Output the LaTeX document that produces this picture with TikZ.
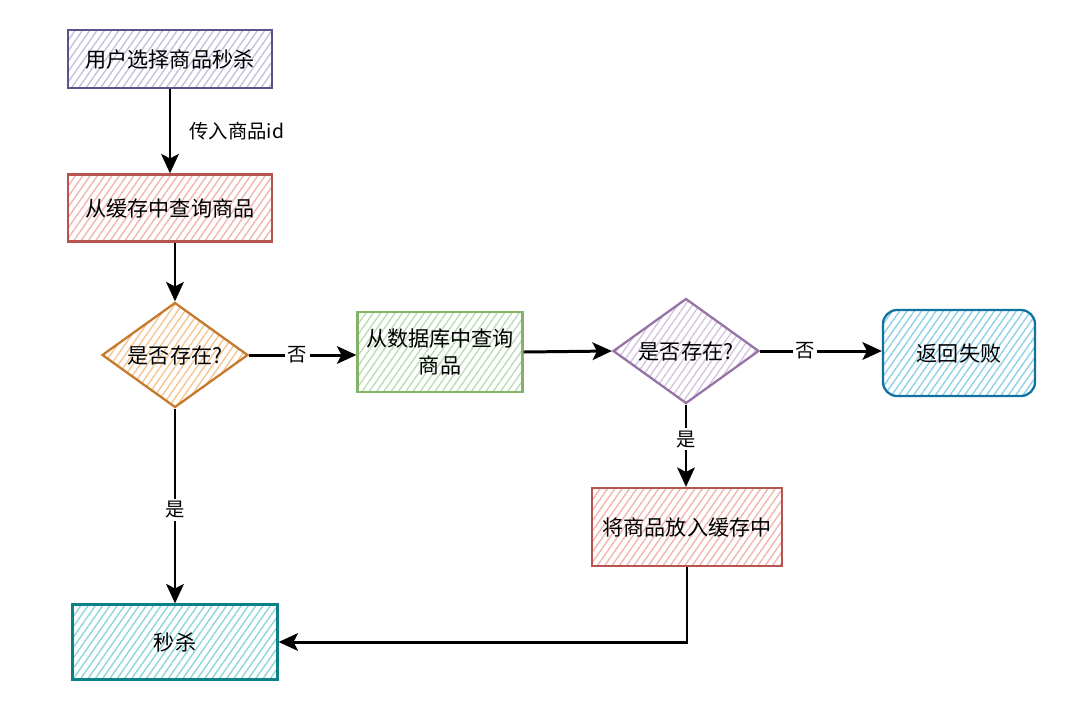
\documentclass[tikz,border=0pt]{standalone}
\usepackage{fontspec}
\setmainfont{Noto Sans CJK SC}
\usetikzlibrary{shapes.geometric,arrows.meta,patterns.meta}

\definecolor{lilacline}{HTML}{5B5489}
\definecolor{lilacfill}{HTML}{C6C0DE}
\definecolor{redline}{HTML}{B85450}
\definecolor{redfill}{HTML}{F3B4B2}
\definecolor{orangeline}{HTML}{C47A2C}
\definecolor{orangefill}{HTML}{F6C594}
\definecolor{greenline}{HTML}{82B366}
\definecolor{greenfill}{HTML}{BCDDB6}
\definecolor{purpleline}{HTML}{9673A6}
\definecolor{purplefill}{HTML}{D6C5DF}
\definecolor{blueline}{HTML}{10739E}
\definecolor{bluefill}{HTML}{8FD0EA}
\definecolor{tealline}{HTML}{0E8088}
\definecolor{tealfill}{HTML}{8ED6D8}

\tikzset{
	hatch/.style={pattern={Lines[angle=55,distance=3.4pt,line width=0.8pt]}, pattern color=#1},
	box/.style={draw, line width=1.3pt, rectangle, inner sep=0pt, align=center,
		font=\fontsize{12}{15}\selectfont},
	choice/.style={draw, line width=1.3pt, diamond, aspect=1.4, inner sep=0pt,
		minimum width=2.92cm, minimum height=2.1cm, font=\fontsize{12}{15}\selectfont},
	flow/.style={line width=1.7pt, -{Stealth[length=11pt,width=10pt,inset=2.5pt]}},
	tag/.style={fill=white, inner sep=1.5pt, font=\fontsize{11}{13}\selectfont}
}

\begin{document}
\begin{tikzpicture}[x=0.02cm, y=-0.02cm]
	\useasboundingbox (0,0) rectangle (1080,721);

	% boxes
	\node[box, draw=lilacline, hatch=lilacfill, minimum width=4.08cm, minimum height=1.16cm] (pick) at (170,59) {用户选择商品秒杀};
	\node[box, draw=redline, hatch=redfill, minimum width=4.08cm, minimum height=1.34cm] (cache) at (170,208) {从缓存中查询商品};
	\node[choice, draw=orangeline, hatch=orangefill] (have1) at (175,355) {是否存在?};
	\node[box, draw=greenline, hatch=greenfill, minimum width=3.3cm, minimum height=1.6cm] (db) at (440,352) {从数据库中查询\\商品};
	\node[choice, draw=purpleline, hatch=purplefill] (have2) at (686,351) {是否存在?};
	\node[box, draw=blueline, hatch=bluefill, rounded corners=8pt, minimum width=3.04cm, minimum height=1.72cm] (fail) at (959,353) {返回失败};
	\node[box, draw=redline, hatch=redfill, minimum width=3.8cm, minimum height=1.56cm] (store) at (687,527) {将商品放入缓存中};
	\node[box, draw=tealline, hatch=tealfill, minimum width=4.1cm, minimum height=1.5cm] (kill) at (175,642) {秒杀};

	% arrows
	\draw[flow] (pick) -- node[right, xshift=7pt, font=\fontsize{11}{13}\selectfont] {传入商品id} (cache);
	\draw[flow] (cache.south -| have1) -- (have1.north);
	\draw[flow] (have1.east) -- node[tag, pos=0.45] {否} (db.west |- have1.east);
	\draw[flow] (db.east) -- (have2.west);
	\draw[flow] (have2.east) -- node[tag, pos=0.37] {否} (fail.west |- have2.east);
	\draw[flow] (have2.south) -- node[tag, pos=0.42] {是} (store.north -| have2);
	\draw[flow] (have1.south) -- node[tag, pos=0.52] {是} (kill.north);
	\draw[flow] (store.south) |- (kill.east);
\end{tikzpicture}
\end{document}
